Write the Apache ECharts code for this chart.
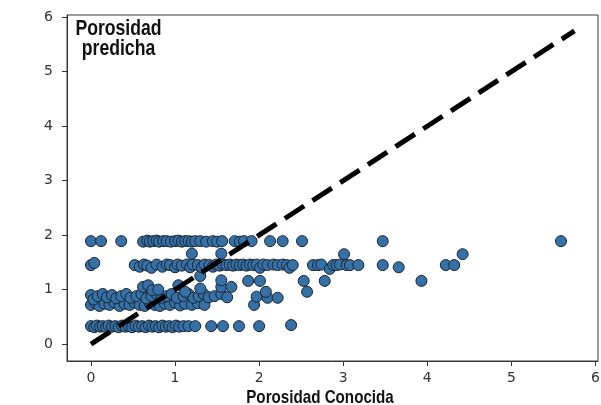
<!DOCTYPE html>
<html>
<head>
<meta charset="utf-8">
<script src="https://cdn.jsdelivr.net/npm/echarts@6/dist/echarts.min.js"></script>
<style>html,body{margin:0;padding:0;background:#fff}#c{width:601px;height:405px}</style>
</head>
<body>
<div id="c"></div>
<script>
// ---- data (x = porosidad conocida, y = porosidad predicha) ----
var row19 = [[0,1.89],[0.12,1.89],[0.36,1.89],[0.62,1.88],[0.67,1.90],[0.70,1.88],[0.74,1.89],[0.78,1.90],[0.81,1.88],[0.86,1.89],[0.90,1.89],[0.95,1.88],[1.0,1.89],[1.04,1.90],[1.08,1.88],[1.12,1.89],[1.16,1.89],[1.20,1.88],[1.24,1.89],[1.30,1.89],[1.37,1.88],[1.45,1.89],[1.50,1.88],[1.56,1.89],[1.71,1.89],[1.77,1.88],[1.82,1.89],[1.91,1.89],[2.13,1.89],[2.28,1.89],[2.51,1.89],[3.47,1.89],[5.59,1.89]];
var row166 = [[1.20,1.66],[1.55,1.66],[3.01,1.65],[4.42,1.65]];
var row145 = [[0,1.45],[0.04,1.49],[0.52,1.45],[0.58,1.42],[0.63,1.46],[0.67,1.44],[0.72,1.40],[0.78,1.46],[0.85,1.42],[0.90,1.46],[0.94,1.45],[1.0,1.41],[1.03,1.46],[1.08,1.44],[1.14,1.46],[1.18,1.41],[1.21,1.46],[1.27,1.45],[1.32,1.41],[1.35,1.46],[1.41,1.45],[1.45,1.42],[1.49,1.46],[1.53,1.44],[1.57,1.46],[1.61,1.45],[1.65,1.46],[1.69,1.44],[1.73,1.46],[1.77,1.45],[1.81,1.46],[1.85,1.44],[1.89,1.46],[1.93,1.45],[1.97,1.46],[2.01,1.40],[2.05,1.46],[2.10,1.45],[2.17,1.46],[2.22,1.45],[2.28,1.46],[2.33,1.45],[2.36,1.40],[2.40,1.45],[2.64,1.45],[2.70,1.45],[2.74,1.46],[2.84,1.38],[2.88,1.45],[2.92,1.45],[2.96,1.46],[3.04,1.45],[3.08,1.45],[3.18,1.45],[3.47,1.45],[3.66,1.41],[4.22,1.45],[4.32,1.45]];
var row117 = [[1.30,1.25],[1.55,1.17],[1.87,1.16],[2.01,1.16],[2.53,1.16],[2.78,1.16],[3.93,1.16]];
var row100 = [[0.62,1.05],[0.68,1.08],[0.73,0.99],[0.80,1.00],[1.04,1.08],[1.12,0.96],[1.30,1.02],[1.55,1.05],[1.67,1.05],[2.08,0.96],[2.57,0.96]];
var row088 = [[0,0.90],[0.03,0.82],[0.08,0.88],[0.14,0.92],[0.19,0.86],[0.25,0.90],[0.30,0.84],[0.36,0.88],[0.42,0.92],[0.47,0.85],[0.54,0.88],[0.60,0.92],[0.66,0.84],[0.72,0.88],[0.78,0.92],[0.84,0.85],[0.90,0.88],[0.96,0.92],[1.02,0.85],[1.10,0.88],[1.16,0.92],[1.22,0.85],[1.28,0.88],[1.34,0.92],[1.40,0.86],[1.47,0.88],[1.55,0.92],[1.62,0.86],[1.97,0.87],[2.10,0.85],[2.22,0.85]];
var row072 = [[0,0.72],[0.05,0.76],[0.10,0.70],[0.16,0.74],[0.22,0.72],[0.28,0.76],[0.34,0.70],[0.40,0.74],[0.46,0.72],[0.52,0.76],[0.58,0.72],[0.64,0.70],[0.70,0.75],[0.76,0.72],[0.82,0.70],[0.88,0.74],[0.94,0.72],[1.00,0.76],[1.06,0.71],[1.12,0.74],[1.20,0.72],[1.27,0.75],[1.35,0.72],[1.94,0.72]];
var row033 = [[0,0.33],[0.04,0.31],[0.07,0.34],[0.11,0.32],[0.14,0.33],[0.18,0.31],[0.21,0.34],[0.25,0.32],[0.29,0.33],[0.33,0.31],[0.37,0.34],[0.41,0.32],[0.45,0.33],[0.49,0.31],[0.53,0.34],[0.57,0.32],[0.61,0.33],[0.65,0.31],[0.69,0.34],[0.73,0.32],[0.77,0.33],[0.81,0.31],[0.85,0.34],[0.89,0.32],[0.93,0.33],[0.97,0.31],[1.01,0.34],[1.05,0.32],[1.10,0.33],[1.16,0.33],[1.24,0.33],[1.43,0.33],[1.57,0.33],[1.76,0.33],[2.00,0.33],[2.38,0.35]];
var idealX = [0, 5.75];
var idealY = [0, 5.75];
var xTicks = [0, 1, 2, 3, 4, 5, 6];
var yTicks = [0, 1, 2, 3, 4, 5, 6];
var xName = 'Porosidad Conocida';
var yTitle = 'Porosidad\npredicha';

var points = [].concat(row033, row072, row088, row100, row117, row145, row166, row19);
var idealLine = idealX.map(function (v, i) { return [v, idealY[i]]; });

var chart = echarts.init(document.getElementById('c'), null, {renderer: 'canvas'});
var axisCol = '#333';
var boldFont = "'Liberation Sans', Arial, sans-serif";
chart.setOption({
  animation: false,
  backgroundColor: '#fff',
  grid: {left: 67, right: 3, top: 15, bottom: 44, outerBoundsMode: 'none', containLabel: false,
         show: true, borderColor: '#3a3a3a', borderWidth: 1, backgroundColor: 'transparent'},
  xAxis: {
    type: 'value', min: -0.285, max: 6.03,
    axisLine: {show: true, onZero: false, lineStyle: {color: '#3a3a3a', width: 1}},
    axisTick: {show: true, customValues: xTicks, length: 5, lineStyle: {color: axisCol}},
    axisLabel: {customValues: xTicks, fontFamily: 'DejaVu Sans', fontSize: 14, color: axisCol, margin: 10},
    splitLine: {show: false}
  },
  yAxis: {
    type: 'value', min: -0.31, max: 6.04,
    axisLine: {show: true, onZero: false, lineStyle: {color: '#3a3a3a', width: 1}},
    axisTick: {show: true, customValues: yTicks, length: 5, lineStyle: {color: axisCol}},
    axisLabel: {customValues: yTicks, fontFamily: 'DejaVu Sans', fontSize: 14, color: axisCol, margin: 14},
    splitLine: {show: false}
  },
  graphic: [{
    type: 'text', x: 118.5, y: 19, scaleX: 0.82, z: 100,
    style: {text: yTitle, x: 0, y: 0, align: 'center', verticalAlign: 'top', fill: '#111',
            font: 'bold 21.5px ' + boldFont, lineHeight: 20}
  }, {
    type: 'text', x: 320, y: 398, scaleX: 0.82, z: 100,
    style: {text: xName, x: 0, y: 0, align: 'center', verticalAlign: 'middle', fill: '#111',
            font: 'bold 18.5px ' + boldFont}
  }],
  series: [{
    type: 'scatter', data: points, symbolSize: 11,
    itemStyle: {color: '#3571a6', borderColor: '#1a2533', borderWidth: 1, opacity: 1}
  }, {
    type: 'line', data: idealLine, showSymbol: false, silent: true,
    lineStyle: {color: '#000', width: 5, type: [23, 10], cap: 'butt'}
  }]
});
</script>
</body>
</html>
